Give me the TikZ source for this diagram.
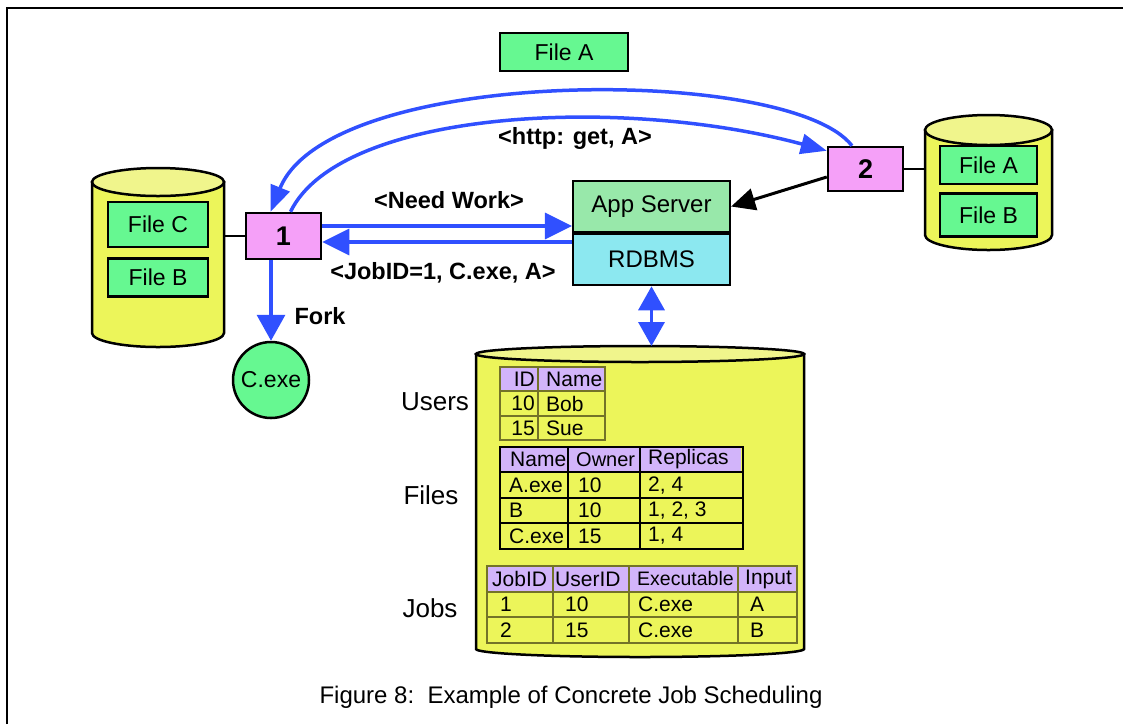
\documentclass[tikz,border=0pt]{standalone}
\usepackage{fontspec}
\setmainfont{Liberation Sans}
\usetikzlibrary{arrows.meta,positioning}

\definecolor{filegreen}{RGB}{102,248,145}
\definecolor{appgreen}{RGB}{152,232,170}
\definecolor{dbcyan}{RGB}{140,232,240}
\definecolor{hostpink}{RGB}{245,160,248}
\definecolor{cylyellow}{RGB}{236,245,90}
\definecolor{cyltop}{RGB}{240,245,140}
\definecolor{hdrlilac}{RGB}{210,180,250}
\definecolor{flowblue}{RGB}{48,80,255}
\definecolor{gridolive}{RGB}{115,115,40}

\tikzset{
  filebox/.style={draw, line width=2.5pt, fill=filegreen, inner sep=0pt,
    font=\fontsize{23}{26}\selectfont},
  hostbox/.style={draw, line width=2.5pt, fill=hostpink, inner sep=0pt,
    minimum width=75pt, font=\fontsize{27}{30}\selectfont\bfseries},
  srvbox/.style={draw, line width=2.2pt, inner sep=0pt, minimum width=157pt,
    minimum height=51pt, font=\fontsize{24}{27}\selectfont},
  msg/.style={font=\fontsize{23.5}{26}\selectfont\bfseries},
  flow/.style={draw=flowblue, line width=3.5pt, -{Triangle[length=27pt,width=26pt]}},
  cyl/.style={draw, line width=2.5pt, fill=cylyellow},
  cell/.style={anchor=west, inner sep=0pt, font=\fontsize{21}{23}\selectfont},
  tbllabel/.style={font=\fontsize{26}{29}\selectfont},
}

\begin{document}
\begin{tikzpicture}[x=1pt, y=-1pt]
    \useasboundingbox (0,0) rectangle (1123,724);

    % cornice
    \draw[line width=2.5pt] (7,724) -- (7,8) -- (1123,8);

    % cilindro sinistro
    \draw[cyl] (92,182) -- (92,333) arc[start angle=180, end angle=0, x radius=66, y radius=14] -- (224,182) -- cycle;
    \draw[cyl, fill=cyltop] (158,182) ellipse [x radius=66, y radius=14];

    % cilindro destro
    \draw[cyl] (925,130) -- (925,235) arc[start angle=180, end angle=0, x radius=63.5, y radius=15] -- (1052,130) -- cycle;
    \draw[cyl, fill=cyltop] (988.5,130) ellipse [x radius=63.5, y radius=15];

    % database
    \draw[cyl] (476,354) -- (476,649) arc[start angle=180, end angle=0, x radius=164, y radius=8] -- (804,354) -- cycle;
    \draw[cyl, fill=cyltop] (640,354) ellipse [x radius=164, y radius=8];

    % file
    \node[filebox, minimum width=128pt, minimum height=38pt] (topfa) at (564,52) {File A};
    \node[filebox, minimum width=100pt, minimum height=45pt] (lfc) at (158,224.5) {File C};
    \node[filebox, minimum width=100pt, minimum height=38pt, below=9pt of lfc] (lfb) {File B};
    \node[filebox, minimum width=97pt, minimum height=38pt] (rfa) at (988.5,165) {File A};
    \node[filebox, minimum width=97pt, minimum height=43pt, below=7pt of rfa] (rfb) {File B};

    % nodi 1 e 2
    \node[hostbox, minimum height=46pt] (n1) at (283.5,236) {1};
    \node[hostbox, minimum height=44pt] (n2) at (865.5,169) {2};
    \coordinate (lside) at (224,236);
    \coordinate (rside) at (925,169);
    \draw[line width=2.5pt] (lside) -- (n1.west);
    \draw[line width=2.5pt] (n2.east) -- (rside);

    % server
    \node[srvbox, fill=appgreen] (app) at (651.5,206.5) {App Server};
    \node[srvbox, fill=dbcyan, below=0pt of app] (rdb) {RDBMS};

    % eseguibile
    \node[circle, draw, line width=2.5pt, fill=filegreen, minimum size=76pt, inner sep=0pt,
        font=\fontsize{23}{26}\selectfont] (cexe) at (271,380) {C.exe};

    % frecce
    \draw[flow, -{Triangle[length=26pt,width=20pt]}] ([xshift=-13.5pt]n2.north)
        .. controls (790,65) and (330,65) .. ([xshift=-13pt]n1.north);
    \draw[flow, -{Triangle[length=26pt,width=20pt]}] ([xshift=7pt]n1.north)
        .. controls (340,110) and (620,95) .. ([yshift=-5pt]n2.north west);
    \draw[flow] ([yshift=10pt]n1.east) -- ([yshift=10pt]n1.east -| app.west);
    \draw[flow] ([yshift=-6pt]n1.east -| rdb.west) -- ([yshift=-6pt]n1.east);
    \draw[flow, -{Triangle[length=26pt,width=28pt]}] (n1.south -| cexe) -- (cexe.north);
    \draw[line width=3pt, -{Triangle[length=24pt,width=22pt]}] ([yshift=-8pt]n2.west) -- (app.east);
    \coordinate (dbtop) at (651.5,346);
    \draw[flow, {Triangle[length=24pt,width=26pt]}-{Triangle[length=24pt,width=26pt]}] (rdb.south) -- (dbtop);

    % messaggi
    \node[msg] (getmsg) at (575,138) {<http: get, A>};
    \node[msg] (needmsg) at (449,200) {<Need Work>};
    \node[msg] (jobmsg) at (443,273) {<JobID=1, C.exe, A>};
    \node[msg] (forkmsg) at (320,316) {Fork};

    % tabella Users
    \fill[hdrlilac] (500,367) rectangle (605,391);
    \draw[gridolive, line width=1.3pt] (500,367) rectangle (605,440)
        (538,367) -- (538,440) (500,391) -- (605,391) (500,416) -- (605,416);
    \foreach \y/\a/\b [count=\r] in {379/ID/Name, 403.5/10/Bob, 428/15/Sue} {
        \node[cell, anchor=east] (u\r a) at (535,\y) {\a};
        \node[cell] (u\r b) at (546,\y) {\b};
    }
    \node[tbllabel] (users) at (435,402) {Users};

    % tabella Files
    \fill[hdrlilac] (500,447) rectangle (741,472);
    \draw[line width=2pt] (500,447) rectangle (743,549)
        (568,447) -- (568,549) (640,447) -- (640,549)
        (500,472) -- (743,472) (500,498) -- (743,498) (500,523) -- (743,523);
    \node[cell] (f1a) at (510,459.5) {Name};
    \node[cell, font=\fontsize{20}{22}\selectfont] (f1b) at (576,459.5) {Owner};
    \node[cell] (f1c) at (648,459.5) {Replicas};
    \foreach \y/\a/\b/\c [count=\r from 2] in {485/A.exe/10/{2, 4}, 510.5/B/10/{1, 2, 3}, 536/C.exe/15/{1, 4}} {
        \node[cell] (f\r a) at (509,\y) {\a};
        \node[cell] (f\r b) at (578,\y) {\b};
        \node[cell] (f\r c) at (648,\y) {\c};
    }
    \node[tbllabel] (files) at (431,495) {Files};

    % tabella Jobs
    \fill[hdrlilac] (487,566) rectangle (797,592);
    \draw[gridolive, line width=1.3pt] (487,566) rectangle (797,643)
        (553,566) -- (553,643) (629,566) -- (629,643) (738,566) -- (738,643)
        (487,592) -- (797,592) (487,617) -- (797,617);
    \node[cell] (j1a) at (492,579) {JobID};
    \node[cell] (j1b) at (555,579) {UserID};
    \node[cell, font=\fontsize{19.5}{21}\selectfont] (j1c) at (637,579) {Executable};
    \node[cell] (j1d) at (745,579) {Input};
    \foreach \y/\a/\b/\c/\d [count=\r from 2] in {604.5/1/10/C.exe/A, 630/2/15/C.exe/B} {
        \node[cell] (j\r a) at (500,\y) {\a};
        \node[cell] (j\r b) at (565,\y) {\b};
        \node[cell] (j\r c) at (638,\y) {\c};
        \node[cell] (j\r d) at (750,\y) {\d};
    }
    \node[tbllabel] (jobs) at (430,608) {Jobs};

    % didascalia
    \node[font=\fontsize{24}{27}\selectfont] (caption) at (571,697) {Figure 8:\ \ Example of Concrete Job Scheduling};
\end{tikzpicture}
\end{document}
